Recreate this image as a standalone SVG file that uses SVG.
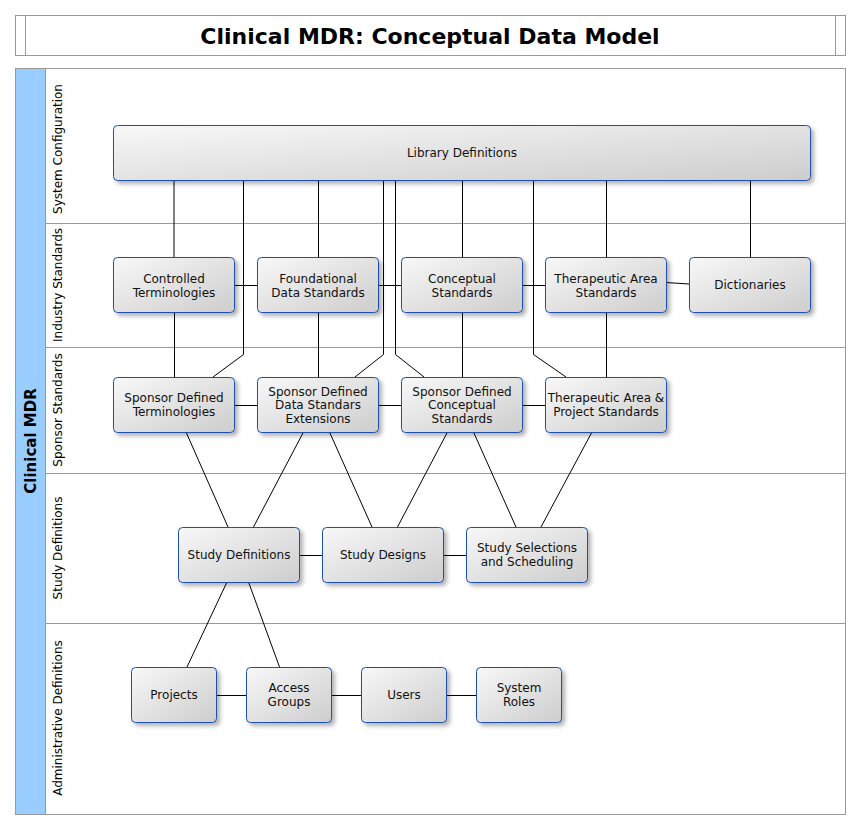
<svg xmlns="http://www.w3.org/2000/svg" width="860" height="830" viewBox="0 0 860 830">
<defs>
<linearGradient id="g" x1="0" y1="0" x2="1" y2="1">
<stop offset="0" stop-color="#f8f8f8"/>
<stop offset="1" stop-color="#cdcdcd"/>
</linearGradient>
<filter id="sh" x="-10%" y="-20%" width="130%" height="150%">
<feDropShadow dx="3" dy="3" stdDeviation="2" flood-color="#000" flood-opacity="0.3"/>
</filter>
</defs>
<style>
.frame{fill:#fff;stroke:#999;stroke-width:1}
.sep{stroke:#999;stroke-width:1}
.n rect{fill:url(#g);stroke:#1f4fb0;stroke-width:1;filter:url(#sh)}
.n text{font-family:"DejaVu Sans",sans-serif;font-size:12px;fill:#111;text-anchor:middle}
.lane{font-family:"DejaVu Sans",sans-serif;font-size:12px;fill:#000;text-anchor:middle}
.c path{fill:none;stroke:#000;stroke-width:1}
</style>
<rect width="860" height="830" fill="#fff"/>
<!-- title -->
<g id="title">
<rect class="frame" x="15.5" y="15.5" width="830" height="40"/>
<line class="sep" x1="25.5" y1="15.5" x2="25.5" y2="55.5"/>
<line class="sep" x1="835.5" y1="15.5" x2="835.5" y2="55.5"/>
<text x="430" y="43.5" font-family="DejaVu Sans, sans-serif" font-size="22" font-weight="bold" text-anchor="middle" fill="#000">Clinical MDR: Conceptual Data Model</text>
</g>
<!-- pool -->
<g id="pool">
<rect class="frame" x="15.5" y="68.5" width="830" height="746"/>
<rect x="16" y="69" width="29" height="745" fill="#99ccff"/>
<line class="sep" x1="45.5" y1="68.5" x2="45.5" y2="814.5"/>
<line class="sep" x1="45.5" y1="223.5" x2="845.5" y2="223.5"/>
<line class="sep" x1="45.5" y1="347.5" x2="845.5" y2="347.5"/>
<line class="sep" x1="45.5" y1="473.5" x2="845.5" y2="473.5"/>
<line class="sep" x1="45.5" y1="623.5" x2="845.5" y2="623.5"/>
<text transform="translate(35.5,441) rotate(-90)" font-family="DejaVu Sans, sans-serif" font-size="15" font-weight="bold" text-anchor="middle" fill="#000">Clinical MDR</text>
<text class="lane" transform="translate(62,149) rotate(-90)">System Configuration</text>
<text class="lane" transform="translate(62,285) rotate(-90)">Industry Standards</text>
<text class="lane" transform="translate(62,410) rotate(-90)">Sponsor Standards</text>
<text class="lane" transform="translate(62,548) rotate(-90)">Study Definitions</text>
<text class="lane" transform="translate(62,718) rotate(-90)">Administrative Definitions</text>
</g>
<!-- connectors -->
<g id="connectors" class="c">
<path d="M174,180V257"/>
<path d="M243.5,180V354.5L213,377"/>
<path d="M318.5,180V257"/>
<path d="M383.5,180V354.5L355,377"/>
<path d="M395.5,180V354.5L424,377"/>
<path d="M462.5,180V257"/>
<path d="M533.5,180V354.5L566,377"/>
<path d="M606.5,180V257"/>
<path d="M750.5,180V257"/>
<path d="M234,285.5H257"/>
<path d="M378,285.5H401"/>
<path d="M522,285.5H545"/>
<path d="M666,282.5L689,284"/>
<path d="M174.5,312V377"/>
<path d="M318.5,312V377"/>
<path d="M462.5,312V377"/>
<path d="M606.5,312V377"/>
<path d="M234,405.5H257"/>
<path d="M378,405.5H401"/>
<path d="M522,405.5H545"/>
<path d="M186,432L228,527"/>
<path d="M303.5,432L253.5,527"/>
<path d="M329.5,432L372,527"/>
<path d="M447.5,432L397.5,527"/>
<path d="M473.5,432L516,527"/>
<path d="M592,432L541,527"/>
<path d="M299,555.5H322"/>
<path d="M443,555.5H466"/>
<path d="M227,582L187,667"/>
<path d="M248.5,582L279.5,667"/>
<path d="M216.5,695.5H246.5"/>
<path d="M331.5,695.5H361.5"/>
<path d="M446.5,695.5H476.5"/>
</g>
<!-- nodes -->
<g id="library-definitions" class="n"><rect x="113.5" y="125.5" width="697" height="55" rx="4"/><text x="462" y="157">Library Definitions</text></g>
<g id="controlled-terminologies" class="n"><rect x="113.5" y="257.5" width="121" height="55" rx="4"/><text x="174" y="282.5">Controlled<tspan x="174" dy="14">Terminologies</tspan></text></g>
<g id="foundational-data-standards" class="n"><rect x="257.5" y="257.5" width="121" height="55" rx="4"/><text x="318" y="282.5">Foundational<tspan x="318" dy="14">Data Standards</tspan></text></g>
<g id="conceptual-standards" class="n"><rect x="401.5" y="257.5" width="121" height="55" rx="4"/><text x="462" y="282.5">Conceptual<tspan x="462" dy="14">Standards</tspan></text></g>
<g id="therapeutic-area-standards" class="n"><rect x="545.5" y="257.5" width="121" height="55" rx="4"/><text x="606" y="282.5">Therapeutic Area<tspan x="606" dy="14">Standards</tspan></text></g>
<g id="dictionaries" class="n"><rect x="689.5" y="257.5" width="121" height="55" rx="4"/><text x="750" y="289">Dictionaries</text></g>
<g id="sponsor-defined-terminologies" class="n"><rect x="113.5" y="377.5" width="121" height="55" rx="4"/><text x="174" y="402">Sponsor Defined<tspan x="174" dy="14">Terminologies</tspan></text></g>
<g id="sponsor-defined-data-standards-extensions" class="n"><rect x="257.5" y="377.5" width="121" height="55" rx="4"/><text x="318" y="395.5">Sponsor Defined<tspan x="318" dy="13.6">Data Standars</tspan><tspan x="318" dy="13.6">Extensions</tspan></text></g>
<g id="sponsor-defined-conceptual-standards" class="n"><rect x="401.5" y="377.5" width="121" height="55" rx="4"/><text x="462" y="395.5">Sponsor Defined<tspan x="462" dy="13.6">Conceptual</tspan><tspan x="462" dy="13.6">Standards</tspan></text></g>
<g id="therapeutic-area-project-standards" class="n"><rect x="545.5" y="377.5" width="121" height="55" rx="4"/><text x="606" y="402">Therapeutic Area &amp;<tspan x="606" dy="14">Project Standards</tspan></text></g>
<g id="study-definitions" class="n"><rect x="178.5" y="527.5" width="121" height="55" rx="4"/><text x="239" y="559">Study Definitions</text></g>
<g id="study-designs" class="n"><rect x="322.5" y="527.5" width="121" height="55" rx="4"/><text x="383" y="559">Study Designs</text></g>
<g id="study-selections" class="n"><rect x="466.5" y="527.5" width="121" height="55" rx="4"/><text x="527" y="552">Study Selections<tspan x="527" dy="14">and Scheduling</tspan></text></g>
<g id="projects" class="n"><rect x="131.5" y="667.5" width="85" height="55" rx="4"/><text x="174" y="699">Projects</text></g>
<g id="access-groups" class="n"><rect x="246.5" y="667.5" width="85" height="55" rx="4"/><text x="289" y="692">Access<tspan x="289" dy="14">Groups</tspan></text></g>
<g id="users" class="n"><rect x="361.5" y="667.5" width="85" height="55" rx="4"/><text x="404" y="699">Users</text></g>
<g id="system-roles" class="n"><rect x="476.5" y="667.5" width="85" height="55" rx="4"/><text x="519" y="692">System<tspan x="519" dy="14">Roles</tspan></text></g>
</svg>
